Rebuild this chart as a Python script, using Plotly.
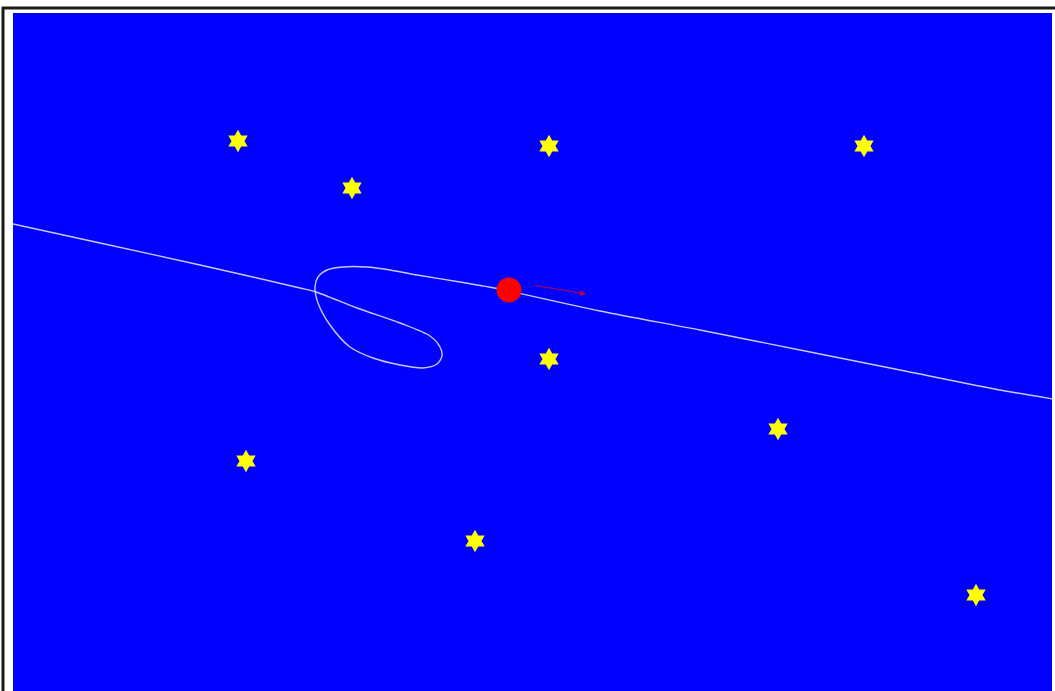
import plotly.graph_objects as go

# Star positions (pixel-like coordinates of the scene)
star_x = [238, 549, 864, 352, 549, 778, 246, 475, 976]
star_y = [141, 146, 146, 188, 359, 429, 461, 541, 595]

# Orbit / trajectory path with retrograde loop
path_x = [13, 100, 200, 300, 316, 357, 400, 430, 440, 442, 437, 423, 400, 373, 350, 330,
          318, 315, 318, 327, 343, 367, 390, 417, 460, 500, 509, 600, 700, 800, 900, 1000, 1053]
path_y = [224, 243, 265, 288, 292, 308, 323, 336, 347, 356, 364, 368, 365, 358, 347, 325,
          303, 287, 277, 270, 267, 267, 270, 275, 282, 289, 291, 311, 330, 350, 370, 390, 399]

# Moving body and its velocity arrow
body_x = [509]
body_y = [290]
arrow_tail = (533, 285)
arrow_head = (586, 294)

W, H = 1055, 691
L, T, R, B = 13, 13, 3, 0
PW, PH = W - L - R, H - T - B

def px(x):
    return (x - L) / PW

def py(y):
    return 1 - (y - T) / PH

fig = go.Figure()
fig.add_trace(go.Scatter(x=path_x, y=path_y, mode="lines",
                         line=dict(color="rgb(200,200,240)", width=1.4, shape="spline", smoothing=0.8),
                         hoverinfo="skip", showlegend=False))
fig.add_trace(go.Scatter(x=star_x, y=star_y, mode="markers",
                         marker=dict(symbol="hexagram", size=17, color="#ffff00",
                                     line=dict(width=0)),
                         showlegend=False))
fig.add_trace(go.Scatter(x=body_x, y=body_y, mode="markers",
                         marker=dict(symbol="circle", size=25, color="#ff0000", line=dict(width=0)),
                         showlegend=False))
fig.add_annotation(x=arrow_head[0], y=arrow_head[1], ax=arrow_tail[0], ay=arrow_tail[1],
                   xref="x", yref="y", axref="x", ayref="y", text="", showarrow=True,
                   arrowhead=2, arrowsize=1.2, arrowwidth=1, arrowcolor="rgba(255,0,0,0.75)")

fig.update_layout(
    width=W, height=H,
    margin=dict(l=L, r=R, t=T, b=B),
    paper_bgcolor="white", plot_bgcolor="#0000ff",
    xaxis=dict(range=[L, W - R], visible=False, fixedrange=True),
    yaxis=dict(range=[H - B, T], visible=False, fixedrange=True),
    shapes=[
        dict(type="line", xref="paper", yref="paper", x0=px(3), x1=px(3), y0=py(7), y1=py(H + 5),
             line=dict(color="#1a1a1a", width=3)),
        dict(type="line", xref="paper", yref="paper", x0=px(2), x1=px(W + 5), y0=py(8), y1=py(8),
             line=dict(color="#1a1a1a", width=3)),
    ],
)

fig.write_html("out.html", config={"displayModeBar": False},
               post_script="document.body.style.margin='0px';document.body.style.overflow='hidden';")
